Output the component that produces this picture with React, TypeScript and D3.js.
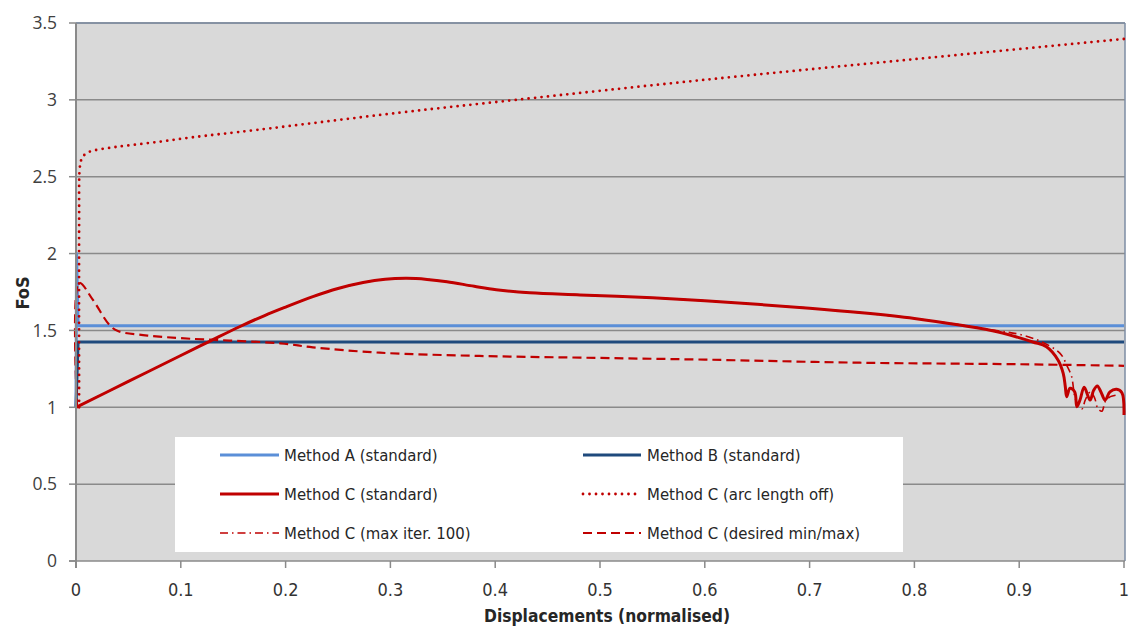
import React from "react";
import * as d3 from "d3";

type Pt = [number, number];

// Axis ticks
const xTickValues = [0, 0.1, 0.2, 0.3, 0.4, 0.5, 0.6, 0.7, 0.8, 0.9, 1];
const yTickValues = [0, 0.5, 1, 1.5, 2, 2.5, 3, 3.5];

// Series: [displacement (normalised), FoS]
const methodA: Pt[] = [[0, 1], [0.0005, 2.0], [0.002, 1.53], [1, 1.53]];
const methodB: Pt[] = [[0, 1], [0.002, 1.425], [1, 1.425]];

const methodCStandard: Pt[] = [
  [0, 1], [0.05, 1.168], [0.1, 1.337], [0.128, 1.431], [0.156, 1.524], [0.18, 1.597],
  [0.2, 1.652], [0.226, 1.72], [0.25, 1.773], [0.274, 1.812], [0.295, 1.833],
  [0.3155, 1.839], [0.335, 1.832], [0.354, 1.817], [0.38, 1.787], [0.401, 1.765],
  [0.433, 1.745], [0.481, 1.731], [0.55, 1.712], [0.6, 1.693], [0.65, 1.67], [0.7, 1.645],
  [0.75, 1.615], [0.8, 1.578], [0.843, 1.535], [0.88, 1.49], [0.913, 1.425], [0.926, 1.394],
  [0.937, 1.308], [0.942, 1.221], [0.944, 1.134], [0.9453, 1.069], [0.9485, 1.124],
  [0.953, 1.1], [0.955, 1.004], [0.958, 1.047], [0.962, 1.13], [0.9676, 1.047], [0.971, 1.11],
  [0.9745, 1.139], [0.978, 1.1], [0.982, 1.047], [0.9866, 1.1], [0.993, 1.117], [0.998, 1.095],
  [1.0, 0.95],
];

const methodCArcOff: Pt[] = [
  [0.003, 1], [0.003, 2.2], [0.0035, 2.55], [0.005, 2.61], [0.007, 2.635], [0.012, 2.66],
  [0.018, 2.672], [0.031, 2.687], [0.048, 2.702], [0.08, 2.728], [0.112, 2.757],
  [0.172, 2.804], [0.309, 2.917], [0.42, 3.0], [0.595, 3.127], [0.8, 3.265], [1, 3.396],
];

const methodCMaxIter: Pt[] = [
  [0, 1], [0.05, 1.168], [0.1, 1.337], [0.128, 1.431], [0.156, 1.524], [0.18, 1.597],
  [0.2, 1.652], [0.226, 1.72], [0.25, 1.773], [0.274, 1.812], [0.295, 1.833],
  [0.3155, 1.839], [0.335, 1.832], [0.354, 1.817], [0.38, 1.787], [0.401, 1.765],
  [0.433, 1.745], [0.481, 1.731], [0.55, 1.712], [0.6, 1.693], [0.65, 1.67], [0.7, 1.645],
  [0.75, 1.615], [0.8, 1.578], [0.843, 1.537], [0.88, 1.497], [0.9, 1.475], [0.92, 1.43],
  [0.939, 1.351], [0.946, 1.264], [0.95, 1.2], [0.953, 1.07], [0.956, 1.015], [0.96, 0.99],
  [0.963, 1.047], [0.968, 1.1], [0.972, 1.06], [0.975, 0.993], [0.979, 0.975], [0.982, 1.036],
  [0.987, 1.069], [0.993, 1.08],
];

const methodCDesired: Pt[] = [
  [0.001, 1], [0.003, 1.81], [0.016, 1.7], [0.032, 1.535], [0.04, 1.496], [0.064, 1.47],
  [0.099, 1.45], [0.195, 1.416], [0.226, 1.39], [0.29, 1.355], [0.385, 1.334],
  [0.481, 1.323], [0.6, 1.31], [0.748, 1.29], [0.9, 1.28], [1, 1.27],
];

const legendLabels = [
  "Method A (standard)", "Method B (standard)",
  "Method C (standard)", "Method C (arc length off)",
  "Method C (max iter. 100)", "Method C (desired min/max)",
];

const RED = "#c00000";
const LIGHT_BLUE = "#5b8fd8";
const DARK_BLUE = "#1f4a7d";

const styles = [
  { stroke: LIGHT_BLUE, width: 3, dash: undefined as string | undefined, cap: "butt" },
  { stroke: DARK_BLUE, width: 3, dash: undefined, cap: "butt" },
  { stroke: RED, width: 3, dash: undefined, cap: "butt" },
  { stroke: RED, width: 2.8, dash: "0 6.5", cap: "round" },
  { stroke: RED, width: 1.6, dash: "8 4 1.5 4", cap: "butt" },
  { stroke: RED, width: 2.2, dash: "9 5", cap: "butt" },
];

export default function App() {
  const W = 1129, H = 628;
  const x = d3.scaleLinear().domain([0, 1]).range([76, 1124]);
  const y = d3.scaleLinear().domain([0, 3.5]).range([561, 23]);

  const linear = d3.line<Pt>().x(d => x(d[0])).y(d => y(d[1])).curve(d3.curveLinear);
  const smooth = d3.line<Pt>().x(d => x(d[0])).y(d => y(d[1])).curve(d3.curveCatmullRom.alpha(0.5));

  const series: { data: Pt[]; gen: typeof linear }[] = [
    { data: methodA, gen: linear },
    { data: methodB, gen: linear },
    { data: methodCStandard, gen: smooth },
    { data: methodCArcOff, gen: smooth },
    { data: methodCMaxIter, gen: smooth },
    { data: methodCDesired, gen: smooth },
  ];

  const [x0, x1] = x.range();
  const [yb, yt] = y.range();

  const legendRows = [455, 494, 533];
  const legendCols = [{ l0: 220, l1: 279, t: 284 }, { l0: 583, l1: 641, t: 647 }];

  const narrow = "'DejaVu Sans Condensed', 'Liberation Sans', sans-serif";

  return (
    <svg width={W} height={H} style={{ position: "absolute", left: 0, top: 0, background: "#fff" }}>
      <rect x={x0} y={yt} width={x1 - x0 + 1} height={yb - yt} fill="#d9d9d9" />
      {yTickValues.filter(v => v > 0).map(v => (
        <line key={v} x1={x0} x2={x1 + 1} y1={y(v)} y2={y(v)} stroke="#8a8a8a" strokeWidth={1.5} />
      ))}
      <line x1={x0} x2={x1 + 1} y1={yt} y2={yt} stroke="#7d8ca3" strokeWidth={1.5} />
      <line x1={x1 + 1} x2={x1 + 1} y1={yt} y2={yb} stroke="#7d8ca3" strokeWidth={1.5} />

      {series.map((s, i) => (
        <path
          key={i}
          d={s.gen(s.data) || ""}
          fill="none"
          stroke={styles[i].stroke}
          strokeWidth={styles[i].width}
          strokeDasharray={styles[i].dash}
          strokeLinecap={styles[i].cap as any}
          strokeLinejoin="round"
        />
      ))}

      {/* axes */}
      <line x1={x0} x2={x0} y1={yt} y2={yb + 7} stroke="#8a8a8a" strokeWidth={2} />
      <line x1={x0 - 7} x2={x1 + 1} y1={yb} y2={yb} stroke="#8a8a8a" strokeWidth={1.5} />
      {yTickValues.map(v => (
        <g key={v}>
          <line x1={x0 - 7} x2={x0} y1={y(v)} y2={y(v)} stroke="#8a8a8a" strokeWidth={1.5} />
          <text x={57} y={y(v)} dy="0.36em" textAnchor="end" fontFamily="'Open Sans', sans-serif" fontSize={17.5} fill="#404040">
            {String(v)}
          </text>
        </g>
      ))}
      {xTickValues.map(v => (
        <g key={v}>
          <line x1={x(v)} x2={x(v)} y1={yb} y2={yb + 7} stroke="#8a8a8a" strokeWidth={1.5} />
          <text x={x(v)} y={596} textAnchor="middle" fontFamily={narrow} fontSize={18} fill="#333">
            {String(v)}
          </text>
        </g>
      ))}
      <text x={607} y={622} textAnchor="middle" fontFamily={narrow} fontWeight="bold" fontSize={17.3} fill="#262626">
        Displacements (normalised)
      </text>
      <text transform="translate(29,293) rotate(-90)" textAnchor="middle" fontFamily={narrow} fontWeight="bold" fontSize={18} fill="#262626">
        FoS
      </text>

      {/* legend */}
      <rect x={175} y={437} width={728} height={115} fill="#ffffff" />
      {legendLabels.map((label, i) => {
        const row = legendRows[Math.floor(i / 2)];
        const col = legendCols[i % 2];
        const st = styles[i];
        return (
          <g key={label}>
            <line x1={col.l0} x2={col.l1} y1={row} y2={row} stroke={st.stroke} strokeWidth={st.width}
              strokeDasharray={st.dash} strokeLinecap={st.cap as any} />
            <text x={col.t} y={row} dy="0.35em" fontFamily={narrow} fontSize={16.6} fill="#262626">{label}</text>
          </g>
        );
      })}
    </svg>
  );
}
